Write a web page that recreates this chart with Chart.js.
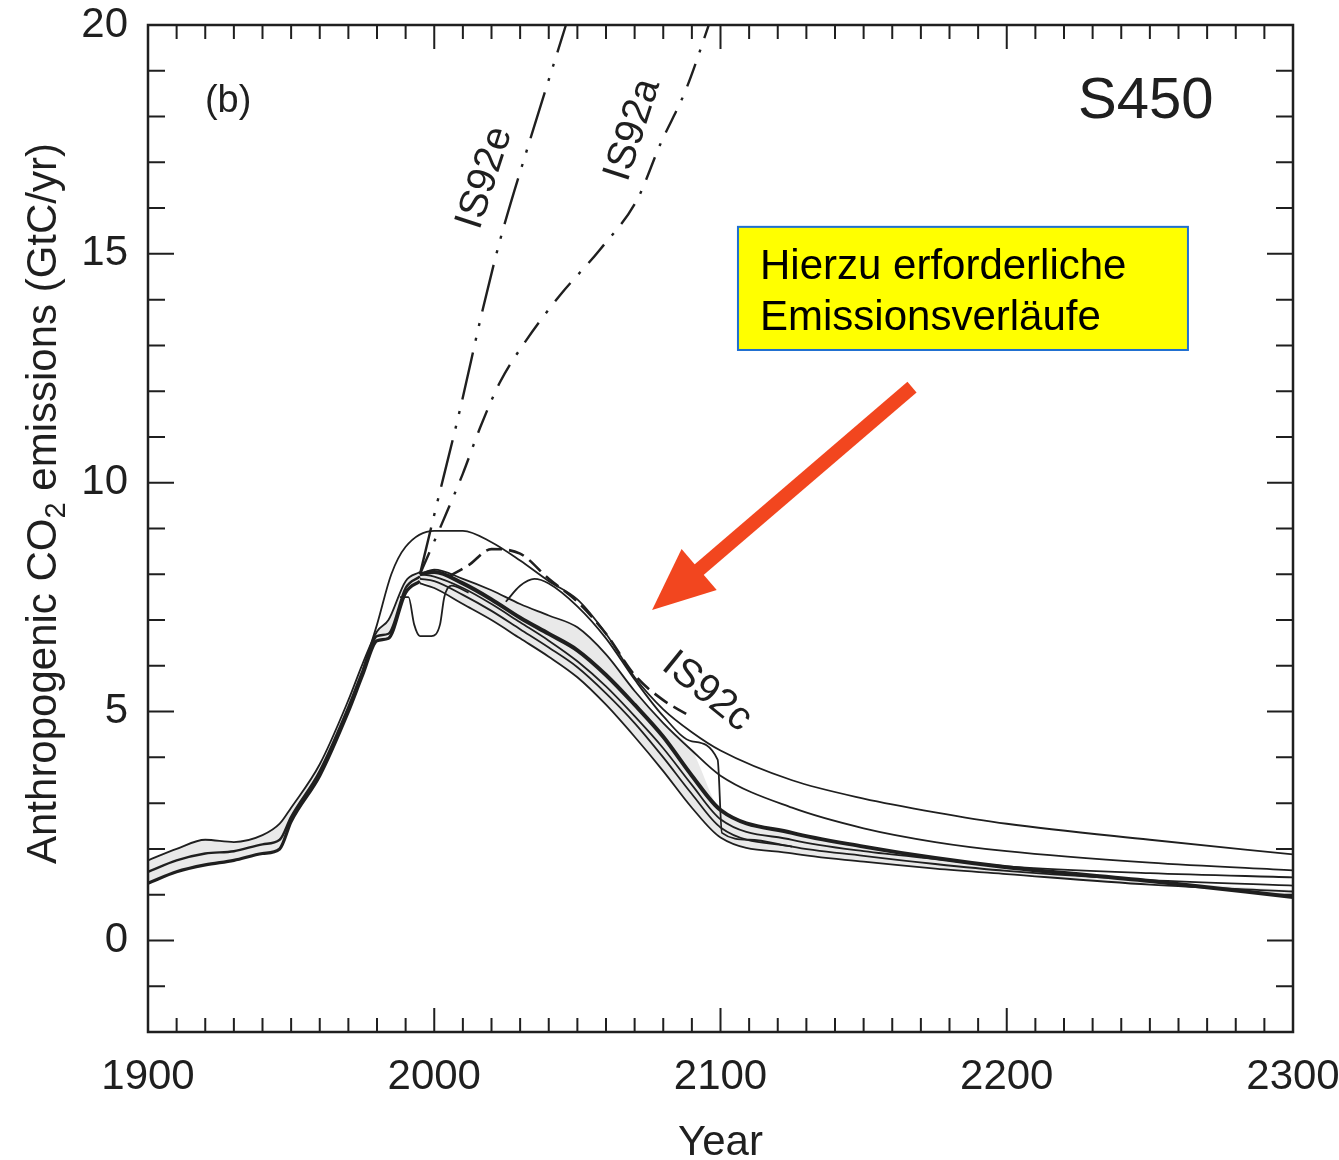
<!DOCTYPE html>
<html>
<head>
<meta charset="utf-8">
<script src="https://cdn.jsdelivr.net/npm/chart.js@4.4.0/dist/chart.umd.min.js"></script>
<style>
  html, body { margin: 0; padding: 0; background: #fff; }
  canvas { display: block; }
</style>
</head>
<body>
<canvas id="emissions" width="1339" height="1160"></canvas>
<script>
const FAMILY = "'Liberation Sans', Arial, Helvetica, sans-serif";
const INK = "#1f1f1f";

const xTickLabels = [1900, 2000, 2100, 2200, 2300];
const yTickLabels = [0, 5, 10, 15, 20];

// historical emissions (several model reconstructions)
const histYears = [1900, 1910, 1920, 1930, 1940, 1946, 1950, 1960, 1970, 1975, 1980, 1984, 1990, 1995];
const histHigh = [1.75, 2.0, 2.2, 2.15, 2.3, 2.55, 2.9, 3.85, 5.25, 6.05, 6.75, 7.0, 7.85, 8.05];
const histMid = [1.5, 1.75, 1.9, 1.95, 2.1, 2.2, 2.7, 3.7, 5.1, 5.9, 6.65, 6.7, 7.7, 7.95];
const histLow = [1.25, 1.5, 1.65, 1.75, 1.9, 2.0, 2.6, 3.6, 5.0, 5.8, 6.55, 6.6, 7.6, 7.85];

// S450 profiles
const futYears = [1995, 2000, 2010, 2020, 2030, 2040, 2050, 2060, 2070, 2080, 2090, 2100, 2125, 2150, 2175, 2200, 2250, 2300];
const profileUpper = [8.0, 8.1, 7.9, 7.65, 7.35, 7.1, 6.84, 6.25, 5.45, 4.75, 4.15, 3.6, 2.9, 2.45, 2.15, 1.95, 1.7, 1.53];
const profileMid = [8.0, 7.95, 7.7, 7.35, 6.95, 6.55, 6.1, 5.55, 4.9, 4.2, 3.4, 2.65, 2.2, 1.95, 1.78, 1.62, 1.47, 1.38];
const profileCentral = [8.0, 8.05, 7.8, 7.45, 7.05, 6.7, 6.34, 5.8, 5.15, 4.45, 3.6, 2.85, 2.35, 2.05, 1.8, 1.6, 1.3, 0.95];
const profileLow = [7.9, 7.85, 7.55, 7.2, 6.8, 6.4, 5.97, 5.4, 4.75, 4.0, 3.2, 2.47, 2.05, 1.85, 1.67, 1.52, 1.32, 1.2];
const profileLowest = [7.8, 7.7, 7.35, 7.0, 6.6, 6.2, 5.75, 5.15, 4.45, 3.7, 2.9, 2.25, 1.9, 1.72, 1.57, 1.45, 1.22, 1.07];

const delayedYears = [1975, 1980, 1985, 1990, 2000, 2010, 2020, 2030, 2040, 2050, 2060, 2070, 2080, 2090, 2100, 2125, 2150, 2175, 2200, 2250, 2300];
const delayedVals = [5.9, 6.9, 8.0, 8.6, 8.95, 8.95, 8.7, 8.3, 7.85, 7.45, 6.7, 5.75, 5.05, 4.55, 4.15, 3.5, 3.1, 2.8, 2.55, 2.2, 1.88];

const stepYears = [2025, 2030, 2035, 2040, 2050, 2060, 2070, 2080, 2090, 2099, 2100.5, 2110, 2125];
const stepVals = [7.4, 7.75, 7.9, 7.8, 7.3, 6.6, 5.7, 4.9, 4.35, 3.95, 2.35, 2.2, 2.05];

const loopYears = [1988, 1991, 1993, 1995, 1999, 2002, 2003.5, 2006, 2012];
const loopVals = [7.5, 7.5, 6.9, 6.65, 6.65, 6.9, 7.5, 7.75, 7.6];

// IS92 scenarios
const is92eYears = [1995, 2000, 2009, 2017, 2023, 2034, 2043, 2048];
const is92eVals = [8.0, 9.3, 11.6, 13.8, 15.3, 17.6, 19.4, 20.4];
const is92aYears = [1995, 2004, 2010, 2016, 2023, 2032, 2044, 2058, 2071, 2079, 2088, 2097];
const is92aVals = [8.0, 9.3, 10.2, 11.2, 12.2, 13.1, 14.1, 15.1, 16.2, 17.4, 18.6, 20.2];
const is92cYears = [2005, 2012, 2020, 2030, 2040, 2050, 2060, 2070, 2080, 2088];
const is92cVals = [7.95, 8.2, 8.55, 8.45, 7.9, 7.4, 6.7, 5.8, 5.25, 4.95];

// shaded range
const bandYears = [1900, 1910, 1920, 1930, 1940, 1946, 1950, 1960, 1970, 1975, 1980, 1984, 1990, 1995, 2000, 2010, 2020, 2030, 2040, 2050, 2060, 2070, 2080, 2090, 2100, 2125, 2150, 2175, 2200, 2250, 2300];
const bandHigh = [1.75, 2.0, 2.2, 2.15, 2.3, 2.55, 2.9, 3.85, 5.25, 6.05, 6.75, 7.0, 7.85, 8.05, 8.1, 7.9, 7.65, 7.35, 7.1, 6.84, 6.25, 5.45, 4.75, 4.15, 2.85, 2.35, 2.05, 1.8, 1.6, 1.3, 1.1];
const bandLow = [1.25, 1.5, 1.65, 1.75, 1.9, 2.0, 2.6, 3.6, 5.0, 5.8, 6.55, 6.6, 7.6, 7.85, 7.7, 7.35, 7.0, 6.6, 6.2, 5.75, 5.15, 4.45, 3.7, 2.9, 2.25, 1.9, 1.72, 1.57, 1.45, 1.22, 1.0];

function series(years, vals, style) {
  return Object.assign({
    data: years.map((yr, i) => ({ x: yr, y: vals[i] })),
    borderColor: INK,
    borderWidth: 1.8,
    pointRadius: 0,
    fill: false,
    cubicInterpolationMode: "monotone"
  }, style);
}

const datasets = [
  series(is92eYears, is92eVals, { borderWidth: 2.4, borderDash: [48, 12, 3, 12, 3, 12] }),
  series(is92aYears, is92aVals, { borderWidth: 2.4, borderDash: [24, 12, 3, 12] }),
  series(is92cYears, is92cVals, { borderWidth: 2.6, borderDash: [16, 7] }),
  series(histYears, histHigh, { borderWidth: 1.8 }),
  series(histYears, histMid, { borderWidth: 2.4 }),
  series(histYears, histLow, { borderWidth: 3.2 }),
  series(delayedYears, delayedVals, {}),
  series(stepYears, stepVals, {}),
  series(loopYears, loopVals, {}),
  series(futYears, profileUpper, {}),
  series(futYears, profileMid, {}),
  series(futYears, profileLow, {}),
  series(futYears, profileLowest, {}),
  series(futYears, profileCentral, { borderWidth: 4 }),
  series(bandYears, bandHigh, { borderWidth: 0, fill: "+1", backgroundColor: "#e9e9e9" }),
  series(bandYears, bandLow, { borderWidth: 0 })
];

const frame = {
  id: "frame",
  beforeDraw(chart) {
    const ctx = chart.ctx;
    ctx.save();
    ctx.fillStyle = "#fff";
    ctx.fillRect(0, 0, chart.width, chart.height);
    ctx.restore();
  },
  afterDatasetsDraw(chart) {
    const { ctx, chartArea: a, scales: { x, y } } = chart;
    ctx.save();
    ctx.strokeStyle = INK;
    ctx.lineWidth = 2;
    ctx.beginPath();
    for (let yr = 1910; yr < 2300; yr += 10) {
      const p = x.getPixelForValue(yr);
      const len = yr % 100 === 0 ? 24 : 14;
      ctx.moveTo(p, a.bottom); ctx.lineTo(p, a.bottom - len);
      ctx.moveTo(p, a.top); ctx.lineTo(p, a.top + len);
    }
    for (let v = -1; v < 20; v++) {
      const p = y.getPixelForValue(v);
      const len = v % 5 === 0 ? 26 : 17;
      ctx.moveTo(a.left, p); ctx.lineTo(a.left + len, p);
      ctx.moveTo(a.right, p); ctx.lineTo(a.right - len, p);
    }
    ctx.stroke();
    ctx.lineWidth = 2.5;
    ctx.strokeRect(a.left, a.top, a.right - a.left, a.bottom - a.top);
    ctx.restore();
  },
  afterDraw(chart) {
    const { ctx, chartArea: a, scales: { x, y } } = chart;
    const P = (u, v) => [x.getPixelForValue(u), y.getPixelForValue(v)];
    ctx.save();
    ctx.fillStyle = INK;

    // y axis title with subscript
    ctx.save();
    ctx.font = "42px " + FAMILY;
    const part1 = "Anthropogenic CO";
    const part3 = " emissions (GtC/yr)";
    const w1 = ctx.measureText(part1).width;
    const w3 = ctx.measureText(part3).width;
    ctx.font = "29px " + FAMILY;
    const w2 = ctx.measureText("2").width;
    const total = w1 + w2 + w3;
    const cy = (a.top + a.bottom) / 2 - 25;
    ctx.translate(56, cy + total / 2);
    ctx.rotate(-Math.PI / 2);
    ctx.textAlign = "left";
    ctx.textBaseline = "alphabetic";
    ctx.font = "42px " + FAMILY;
    ctx.fillText(part1, 0, 0);
    ctx.font = "29px " + FAMILY;
    ctx.fillText("2", w1, 9);
    ctx.font = "42px " + FAMILY;
    ctx.fillText(part3, w1 + w2, 0);
    ctx.restore();

    // panel labels
    ctx.textAlign = "left";
    ctx.textBaseline = "alphabetic";
    ctx.font = "38px " + FAMILY;
    let [u, v] = P(1919.9, 18.1);
    ctx.fillText("(b)", u, v);
    ctx.font = "58px " + FAMILY;
    [u, v] = P(2224.9, 17.97);
    ctx.fillText("S450", u, v);

    // scenario labels along the lines
    const labels = [["IS92e", 2017.7, 16.66, -72], ["IS92a", 2069.4, 17.71, -72], ["IS92c", 2095.3, 5.43, 39]];
    ctx.font = "40px " + FAMILY;
    ctx.textAlign = "center";
    ctx.textBaseline = "middle";
    labels.forEach(([t, lx, ly, deg]) => {
      const [px, py] = P(lx, ly);
      ctx.save();
      ctx.translate(px, py);
      ctx.rotate(deg * Math.PI / 180);
      ctx.fillText(t, 0, 0);
      ctx.restore();
    });

    // yellow note box
    const [bx0, by0] = P(2106.1, 15.59);
    const [bx1, by1] = P(2263.3, 12.9);
    ctx.fillStyle = "#ffff00";
    ctx.fillRect(bx0, by0, bx1 - bx0, by1 - by0);
    ctx.strokeStyle = "#1f6fd1";
    ctx.lineWidth = 2;
    ctx.strokeRect(bx0, by0, bx1 - bx0, by1 - by0);
    ctx.fillStyle = "#000";
    ctx.font = "42px " + FAMILY;
    ctx.textAlign = "left";
    ctx.textBaseline = "alphabetic";
    [u, v] = P(2113.8, 14.45);
    ctx.fillText("Hierzu erforderliche", u, v);
    [u, v] = P(2113.8, 13.34);
    ctx.fillText("Emissionsverläufe", u, v);

    // red arrow
    const [sx, sy] = P(2166.9, 12.09);
    const [tx, ty] = P(2076.1, 7.22);
    const ang = Math.atan2(ty - sy, tx - sx);
    const headLen = 62, headHalf = 27;
    const hx = tx - headLen * Math.cos(ang), hy = ty - headLen * Math.sin(ang);
    ctx.strokeStyle = "#f2461f";
    ctx.fillStyle = "#f2461f";
    ctx.lineWidth = 14;
    ctx.beginPath();
    ctx.moveTo(sx, sy);
    ctx.lineTo(hx + 4 * Math.cos(ang), hy + 4 * Math.sin(ang));
    ctx.stroke();
    ctx.beginPath();
    ctx.moveTo(tx, ty);
    ctx.lineTo(hx + headHalf * Math.sin(ang), hy - headHalf * Math.cos(ang));
    ctx.lineTo(hx - headHalf * Math.sin(ang), hy + headHalf * Math.cos(ang));
    ctx.closePath();
    ctx.fill();
    ctx.restore();
  }
};

new Chart(document.getElementById("emissions").getContext("2d"), {
  type: "line",
  data: { datasets },
  plugins: [frame],
  options: {
    animation: false,
    responsive: false,
    devicePixelRatio: 1,
    layout: { padding: { top: 25, right: 46, left: 0, bottom: 0 } },
    plugins: {
      legend: { display: false },
      tooltip: { enabled: false },
      filler: { drawTime: "beforeDatasetsDraw" }
    },
    scales: {
      x: {
        type: "linear",
        min: 1900,
        max: 2300,
        grid: { display: false, drawTicks: false },
        border: { display: false },
        afterBuildTicks: s => { s.ticks = xTickLabels.map(v => ({ value: v })); },
        afterFit: s => { s.height = 128; s.paddingLeft = 0; s.paddingRight = 0; },
        ticks: { font: { family: FAMILY, size: 42 }, color: INK, padding: 20, maxRotation: 0, autoSkip: false, callback: v => String(v) },
        title: { display: true, text: "Year", font: { family: FAMILY, size: 42, lineHeight: 0.8 }, color: INK, padding: { top: 0, bottom: 0 } }
      },
      y: {
        type: "linear",
        min: -2,
        max: 20,
        grid: { display: false, drawTicks: false },
        border: { display: false },
        afterBuildTicks: s => { s.ticks = yTickLabels.map(v => ({ value: v })); },
        afterFit: s => { s.width = 148; s.paddingTop = 0; s.paddingBottom = 0; },
        ticks: { font: { family: FAMILY, size: 42 }, color: INK, padding: 20, callback: v => String(v) }
      }
    }
  }
});
</script>
</body>
</html>
